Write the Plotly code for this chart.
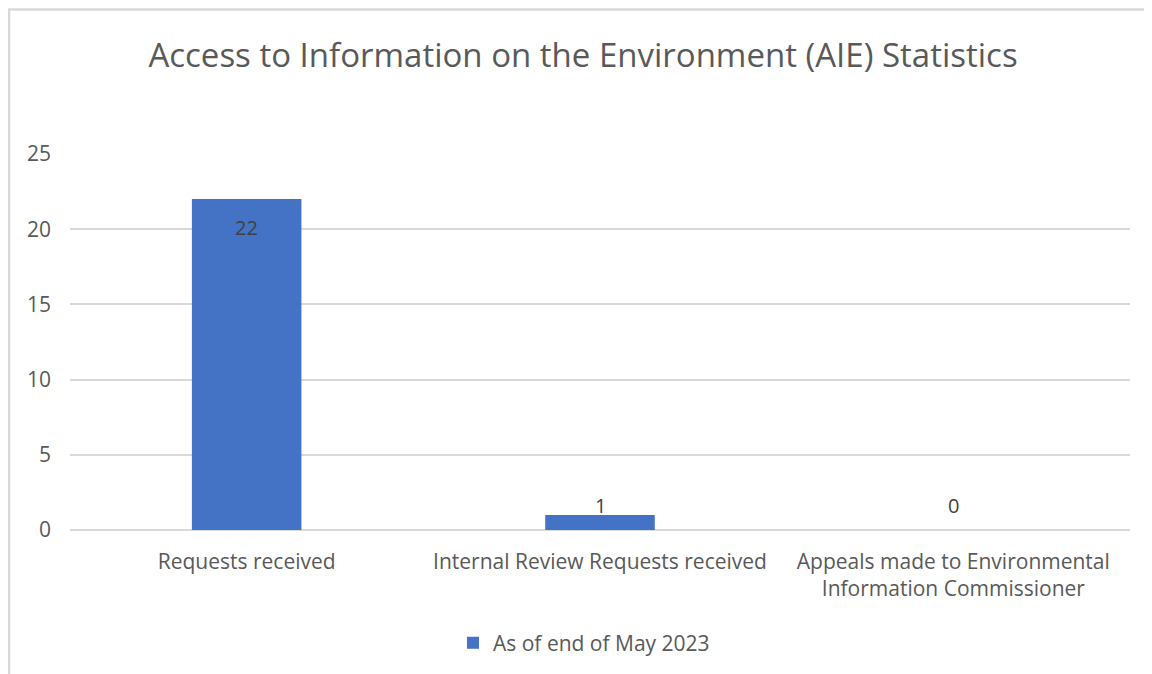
import plotly.graph_objects as go

categories = ["Requests received", "Internal Review Requests received",
              "Appeals made to Environmental<br>Information Commissioner"]
values = [22, 1, 0]
series_name = "As of end of May 2023"
title_text = "Access to Information on the Environment (AIE) Statistics"

W, H = 1152, 674
OFF = 8  # page body margin offset
L, R, T, B = 70 - OFF, 1152 - (1130 - OFF), 154 - OFF, 674 - (530 - OFF)
pw, ph = W - L - R, H - T - B

fig = go.Figure()
fig.add_trace(go.Bar(
    x=categories, y=values, name=series_name,
    marker=dict(color="#4472c4", line=dict(width=0)),
    showlegend=True,
))

# data labels (Excel style: inside end for tall bar, outside end otherwise)
label_shift = [-28, 9, 25]
for c, v, s in zip(categories, values, label_shift):
    fig.add_annotation(x=c, y=v, xref="x", yref="y", text=str(v),
                       showarrow=False, yshift=s, yanchor="middle",
                       font=dict(size=20, color="#404040"))

def px_x(p):
    return (p - OFF - L) / pw

def px_y(p):
    return (H - B - (p - OFF)) / ph

fig.update_layout(
    width=W, height=H,
    margin=dict(l=L, r=R, t=T, b=B),
    paper_bgcolor="white", plot_bgcolor="white",
    font=dict(family="Open Sans", color="#595959"),
    title=dict(text=title_text, x=px_x(583), xanchor="center", xref="paper",
               y=1 - (55 - OFF) / H, yanchor="middle",
               font=dict(size=33, color="#595959")),
    bargap=0.69,
    showlegend=True,
    legend=dict(orientation="h", x=px_x(584), xanchor="center",
                y=px_y(643), yanchor="middle",
                font=dict(size=21, color="#595959"),
                itemwidth=30, itemsizing="constant"),
    xaxis=dict(showgrid=False, showline=False, ticks="",
               tickfont=dict(size=21, color="#595959"),
               ticklabelstandoff=17),
    yaxis=dict(range=[0, 25], dtick=5, showgrid=True, gridcolor="#d9d9d9",
               gridwidth=1.5, zeroline=True, zerolinecolor="#d9d9d9",
               zerolinewidth=1.5, showline=False, ticks="", ticklen=0,
               tickfont=dict(size=21, color="#595959"), ticklabelstandoff=18),
    shapes=[
        dict(type="line", xref="paper", yref="paper",
             x0=px_x(9), x1=px_x(9), y0=px_y(9), y1=px_y(700),
             line=dict(color="#d9d9d9", width=2.5)),
        dict(type="line", xref="paper", yref="paper",
             x0=px_x(8), x1=px_x(1200), y0=px_y(9.5), y1=px_y(9.5),
             line=dict(color="#d9d9d9", width=2.5)),
    ],
)

fig.write_html("out.html")
